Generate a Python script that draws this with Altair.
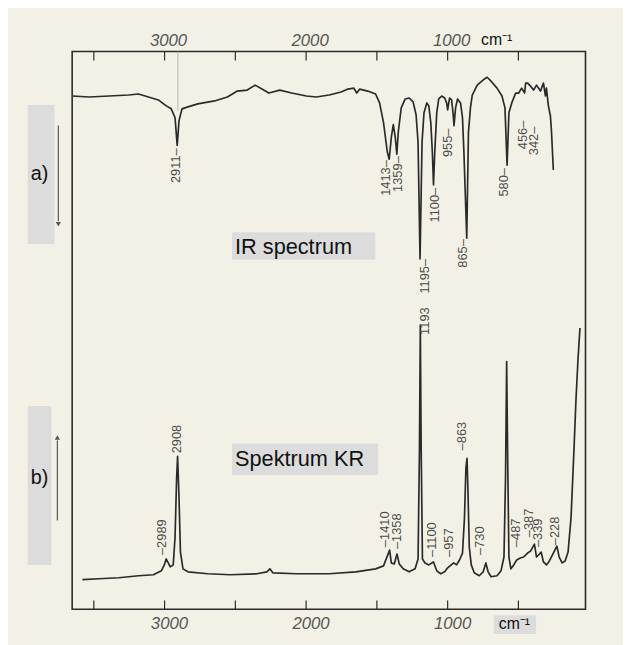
import altair as alt
import pandas as pd

# ---------------- data ----------------
# IR spectrum (a): wavenumber [cm-1] and trace level (arbitrary units, frame = 0..113)
ir_wn = [3651, 3533, 3393, 3254, 3184, 3114, 3044, 2988, 2953, 2926, 2911, 2898, 2877, 2835, 2765,
         2647, 2556, 2486, 2416, 2360, 2312, 2263, 2186, 2102, 1998, 1928, 1837, 1753, 1705, 1663,
         1642, 1621, 1565, 1509, 1481, 1453, 1426, 1413, 1398, 1384, 1370, 1359, 1349, 1328, 1300,
         1272, 1244, 1223, 1209, 1195, 1181, 1167, 1147, 1133, 1119, 1108, 1100, 1091, 1077, 1063,
         1042, 1021, 1007, 1000, 986, 972, 962, 955, 944, 930, 909, 895, 885, 865, 853,
         839, 826, 791, 742, 721, 693, 651, 616, 595, 580, 567, 547, 519, 498, 477,
         456, 449, 435, 414, 393, 372, 344, 323, 309, 302, 288, 274, 267, 253]
ir_val = [104, 103.8, 104, 104.2, 104.4, 103.8, 103.2, 102, 101.4, 99.6, 94, 99, 101.4, 101.8, 102.4,
          103, 103.8, 105, 105.2, 106.2, 105.4, 104.6, 105.2, 104.6, 104, 103.8, 104.2, 104.8, 105.4, 105.6,
          104.6, 105.4, 105, 104.4, 102.6, 98.6, 92.6, 91.2, 95.6, 98.2, 95.6, 92.2, 96.6, 101.6, 103.4,
          103.6, 102.8, 100.2, 94.6, 71, 94.6, 100.6, 102.6, 102, 98.6, 92.6, 86, 92.6, 100.6, 103.4,
          104, 103.6, 102.6, 101.2, 103.6, 103.2, 100.6, 98, 101.6, 103.4, 102.6, 99.6, 92.6, 75.2, 96.6,
          101.6, 104.2, 106.2, 107.4, 107.8, 107, 105.6, 104, 101.6, 90, 100.6, 102.6, 104.6, 104.6, 105.6,
          104.6, 106.6, 106.6, 106, 105.2, 106.2, 105, 106.6, 104, 105.6, 102, 100, 97.2, 89]

# Raman spectrum (b, "Spektrum KR")
kr_wn = [3581, 3463, 3323, 3184, 3079, 3023, 3002, 2989, 2974, 2960, 2939, 2926, 2915, 2908, 2898,
         2888, 2870, 2835, 2695, 2535, 2347, 2277, 2256, 2235, 2067, 1837, 1649, 1509, 1453, 1410,
         1398, 1377, 1358, 1342, 1314, 1272, 1230, 1209, 1199, 1193, 1187, 1178, 1160, 1133, 1100,
         1077, 1049, 1021, 1000, 957, 937, 916, 895, 881, 871, 863, 857, 847, 833, 812,
         777, 749, 730, 714, 693, 651, 623, 602, 591, 583, 575, 567, 553, 533, 512,
         487, 463, 435, 414, 387, 372, 358, 339, 323, 302, 281, 253, 228, 212, 191,
         170, 149, 128, 107, 93, 79, 65]
kr_val = [6, 6.2, 6.4, 6.8, 7, 7.8, 9, 10.2, 9.4, 8.6, 9, 14.6, 26.6, 31, 22.6,
          11.6, 8.2, 7.6, 7.2, 7, 7.2, 7.6, 8.2, 7.4, 7.2, 7.2, 7.6, 8.2, 8.8, 12,
          9.4, 9.2, 11.2, 9.2, 8.2, 7.6, 8.2, 10.2, 32.6, 57.6, 32.6, 10.2, 9.4, 9, 9.6,
          7.8, 7.2, 7.6, 8.4, 9.4, 9, 10, 11.4, 18.6, 28.6, 30.6, 24.6, 12.6, 9, 7.4,
          6.8, 7.6, 9.4, 7.6, 6.6, 6.8, 7.8, 10.6, 26.6, 50.2, 28.6, 10.6, 8.2, 9, 10,
          10.4, 10.6, 11.4, 11.8, 13.2, 10.6, 11, 11.6, 9.6, 9, 9.8, 11.4, 12.8, 10.6, 9.4,
          9.8, 11.6, 18.6, 32.6, 42.6, 50.6, 57]

# peak annotations (text, wavenumber position, level)
ir_peak_text = ["2911", "1413", "1359", "1195", "1100", "955", "865", "580", "456", "342"]
ir_peak_wn = [2919, 1433, 1349, 1160, 1091, 1000, 888, 602, 470, 386]
ir_peak_lvl = [93.4, 91, 91.8, 71, 85.4, 97.4, 75, 89.4, 99, 97.8]

kr_peak_text = ["–2989", "2908", "–1410", "–1358", "1193", "–1100", "–957", "–863", "–730",
                "–487", "–387", "–339", "–228"]
kr_peak_wn = [3016, 2912, 1440, 1356, 1160, 1112, 993, 895, 770, 519, 428, 358, 240]
kr_peak_lvl = [11, 31.6, 12.6, 12.2, 55.6, 10.6, 10.6, 32.2, 11, 12.6, 14.6, 12.6, 13]

tick_wn = [3500, 3000, 2500, 2000, 1500, 1000, 500]
label_wn = [3000, 2000, 1000]
marker_wn = [2906]

# ---------------- chart ----------------
W, H = 520, 565
xs = alt.Scale(domain=[3653, 26], nice=False, zero=False)
ys = alt.Scale(domain=[0, 113], nice=False, zero=False)
X = alt.X("wn:Q", scale=xs, axis=None)
Y = alt.Y("v:Q", scale=ys, axis=None)
INK = "#2a2a2a"
NUMFONT = "Liberation Sans"

one = pd.DataFrame({"k": [0]})
ir_df = pd.DataFrame({"wn": ir_wn, "v": ir_val})
kr_df = pd.DataFrame({"wn": kr_wn, "v": kr_val})
ir_lab = pd.DataFrame({"wn": ir_peak_wn, "v": ir_peak_lvl, "t": [s + "–" for s in ir_peak_text]})
kr_lab = pd.DataFrame({"wn": kr_peak_wn, "v": kr_peak_lvl, "t": kr_peak_text})
ticks = pd.DataFrame({"wn": tick_wn})
labs = pd.DataFrame({"wn": label_wn, "t": [str(v) for v in label_wn]})
marker = pd.DataFrame({"wn": marker_wn})


def box(x1, x2, y1, y2, color="#dcdcdc"):
    return alt.Chart(one).mark_rect(color=color).encode(
        x=alt.value(x1), x2=alt.value(x2), y=alt.value(y1), y2=alt.value(y2))


def txt(s, x, y, size, align="left", color="#111", style="normal"):
    return alt.Chart(one).mark_text(text=s, align=align, baseline="alphabetic", fontSize=size,
                                    font="Liberation Sans", color=color, fontStyle=style).encode(
        x=alt.value(x), y=alt.value(y))


boxes = [
    box(162, 307, 183, 211),          # IR spectrum title
    box(162, 310, 397, 429),          # Spektrum KR title
    box(-45, -18, 54, 195),           # a)
    box(-45, -21, 359, 520),          # b)
    box(427, 470, 571, 590),          # bottom cm-1
]

marker_line = alt.Chart(marker).mark_rule(color="#b8b8b8", strokeWidth=1).encode(
    x=X, y=alt.value(0), y2=alt.value(60))

ir_line = alt.Chart(ir_df).mark_line(color=INK, strokeWidth=1.7, strokeJoin="round").encode(
    x=X, y=Y, order="wn:Q")
kr_line = alt.Chart(kr_df).mark_line(color=INK, strokeWidth=1.7, strokeJoin="round").encode(
    x=X, y=Y, order="wn:Q")

ir_text = alt.Chart(ir_lab).mark_text(angle=270, align="right", baseline="middle", fontSize=13,
                                      font=NUMFONT, color="#4a4a4a").encode(x=X, y=Y, text="t:N")
kr_text = alt.Chart(kr_lab).mark_text(angle=270, align="left", baseline="middle", fontSize=13,
                                      font=NUMFONT, color="#4a4a4a").encode(x=X, y=Y, text="t:N")

top_ticks = alt.Chart(ticks).mark_rule(color=INK, strokeWidth=1.2).encode(
    x=X, y=alt.value(0), y2=alt.value(9))
bot_ticks = alt.Chart(ticks).mark_rule(color=INK, strokeWidth=1.2).encode(
    x=X, y=alt.value(H - 9), y2=alt.value(H))
top_labels = alt.Chart(labs).mark_text(fontSize=17, fontStyle="italic", font=NUMFONT, color="#555",
                                       baseline="alphabetic", dx=4).encode(
    x=X, y=alt.value(-6), text="t:N")
bot_labels = alt.Chart(labs).mark_text(fontSize=17, fontStyle="italic", font=NUMFONT, color="#555",
                                       baseline="alphabetic", dx=5).encode(
    x=X, y=alt.value(H + 20), text="t:N")

extras = [
    txt("IR spectrum", 165, 205, 22),
    txt("Spektrum KR", 165, 420, 22),
    txt("a)", -33, 130, 20, align="center"),
    txt("b)", -33, 438, 20, align="center"),
    txt("cm⁻¹", 430, -7, 16, align="center"),
    txt("cm⁻¹", 448, H + 20, 16, align="center"),
    # arrows
    alt.Chart(one).mark_rule(color="#555", strokeWidth=1.2).encode(
        x=alt.value(-14), y=alt.value(75), y2=alt.value(172)),
    alt.Chart(one).mark_point(shape="triangle-down", filled=True, color="#555", size=28, opacity=1).encode(
        x=alt.value(-14), y=alt.value(175)),
    alt.Chart(one).mark_rule(color="#555", strokeWidth=1.2).encode(
        x=alt.value(-15), y=alt.value(394), y2=alt.value(475)),
    alt.Chart(one).mark_point(shape="triangle-up", filled=True, color="#555", size=28, opacity=1).encode(
        x=alt.value(-15), y=alt.value(391)),
]

chart = alt.layer(
    *boxes, marker_line, ir_line, kr_line, ir_text, kr_text,
    top_ticks, bot_ticks, top_labels, bot_labels, *extras
).properties(
    width=W, height=H,
    autosize=alt.AutoSizeParams(type="none"),
    padding={"left": 65, "top": 40, "right": 38, "bottom": 32},
    background="#f3f1e6",
).configure_view(stroke="#2a2a2a", strokeWidth=1.6)

chart.save("out.html", embed_options={"renderer": "svg", "actions": False})
